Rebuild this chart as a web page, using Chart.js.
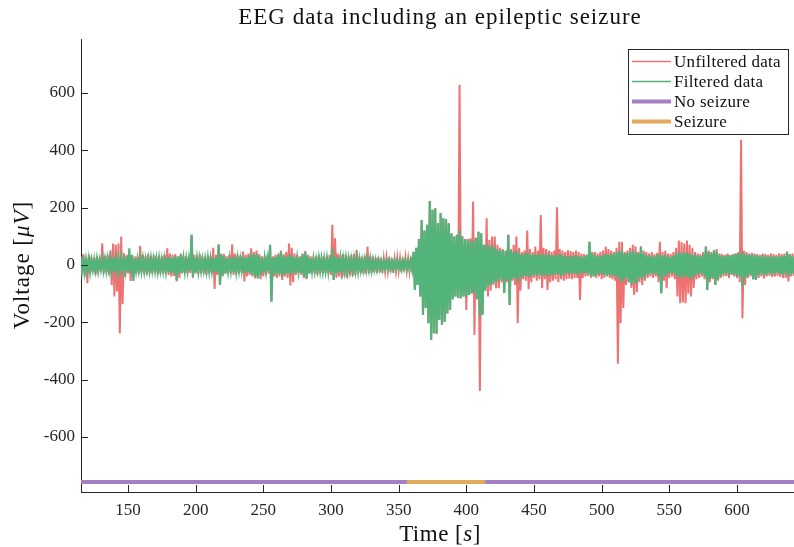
<!DOCTYPE html>
<html>
<head>
<meta charset="utf-8">
<script src="https://cdn.jsdelivr.net/npm/chart.js@4/dist/chart.umd.min.js"></script>
<style>
  html, body { margin: 0; padding: 0; background: #fff; }
</style>
</head>
<body>
<canvas id="eeg" width="794" height="547"></canvas>
<script>
var tStart = 115;          // first bin start [s]
var binStep = 2;           // bin width [s]

// unfiltered signal, upper / lower excursion per bin [uV]
var redHi = [
  30, 38, 25, 35, 28, 22, 30, 26, 75, 32,
  35, 50, 75, 70, 75, 99, 40, 35, 32, 28,
  30, 28, 67, 35, 30, 38, 32, 35, 30, 28,
  30, 35, 58, 40, 35, 38, 30, 40, 32, 30,
  30, 105, 35, 32, 38, 30, 28, 35, 30, 60,
  35, 72, 40, 38, 30, 35, 72, 40, 35, 30,
  47, 35, 40, 58, 45, 50, 38, 30, 28, 32,
  70, 30, 35, 40, 50, 38, 45, 75, 60, 40,
  35, 30, 40, 48, 35, 30, 28, 30, 35, 28,
  30, 28, 35, 140, 93, 40, 35, 38, 35, 30,
  35, 38, 52, 30, 28, 32, 64, 30, 30, 25,
  28, 25, 22, 25, 28, 22, 20, 25, 22, 25,
  25, 22, 28, 46, 60, 90, 157, 120, 140, 223,
  192, 198, 145, 180, 163, 160, 145, 110, 99, 105,
  628, 100, 90, 90, 93, 221, 95, 116, 110, 70,
  163, 87, 99, 99, 70, 60, 55, 50, 105, 55,
  70, 99, 60, 45, 50, 120, 55, 45, 64, 50,
  174, 60, 55, 50, 45, 50, 201, 55, 50, 45,
  52, 48, 45, 50, 45, 40, 38, 35, 81, 45,
  45, 40, 45, 50, 64, 55, 50, 45, 60, 81,
  81, 45, 50, 60, 70, 65, 45, 64, 50, 45,
  40, 45, 38, 42, 81, 45, 50, 40, 38, 45,
  60, 85, 80, 75, 85, 70, 60, 45, 40, 38,
  45, 64, 50, 45, 52, 55, 40, 38, 35, 40,
  35, 38, 40, 45, 437, 50, 45, 40, 42, 40,
  38, 35, 40, 38, 35, 40, 38, 35, 40, 38,
  40, 45, 38, 40
];
var redLo = [
  -30, -40, -64, -30, -25, -35, -28, -22, -30, -26,
  -35, -70, -110, -93, -238, -137, -40, -30, -56, -32,
  -28, -32, -25, -30, -35, -28, -30, -25, -32, -30,
  -30, -28, -35, -40, -38, -58, -45, -30, -28, -30,
  -28, -45, -30, -32, -28, -30, -35, -28, -30, -84,
  -35, -70, -40, -30, -28, -30, -35, -32, -30, -28,
  -58, -40, -35, -40, -47, -45, -50, -40, -35, -30,
  -128, -40, -45, -40, -52, -40, -45, -72, -60, -35,
  -30, -35, -45, -50, -30, -28, -30, -35, -28, -30,
  -28, -30, -35, -52, -45, -40, -47, -40, -45, -35,
  -40, -35, -30, -28, -32, -30, -30, -28, -25, -28,
  -25, -28, -22, -20, -25, -28, -22, -20, -25, -22,
  -20, -22, -25, -87, -70, -110, -174, -150, -203, -262,
  -238, -240, -192, -209, -198, -169, -157, -120, -110, -115,
  -116, -110, -157, -105, -100, -244, -120, -440, -174, -90,
  -110, -90, -70, -81, -81, -60, -98, -60, -140, -55,
  -70, -203, -90, -50, -55, -85, -60, -45, -55, -50,
  -81, -50, -87, -60, -55, -50, -60, -50, -55, -50,
  -47, -50, -45, -45, -122, -45, -40, -38, -45, -40,
  -45, -40, -50, -45, -40, -45, -50, -55, -345, -203,
  -150, -70, -60, -80, -105, -95, -60, -70, -55, -45,
  -40, -45, -40, -60, -99, -55, -81, -45, -40, -50,
  -110, -134, -130, -134, -100, -110, -80, -50, -45, -40,
  -50, -87, -60, -50, -70, -55, -45, -40, -38, -45,
  -35, -40, -45, -60, -186, -70, -45, -40, -50, -52,
  -45, -40, -47, -40, -38, -42, -40, -38, -42, -45,
  -45, -58, -40, -38
];

// filtered signal, upper / lower excursion per bin [uV]
var greenHi = [
  22, 30, 18, 20, 16, 18, 20, 15, 22, 18,
  20, 22, 25, 22, 20, 22, 18, 30, 58, 35,
  20, 18, 22, 20, 18, 20, 22, 18, 20, 22,
  18, 20, 25, 28, 25, 30, 28, 35, 22, 20,
  20, 105, 25, 22, 20, 18, 20, 22, 20, 25,
  25, 70, 35, 30, 22, 20, 25, 28, 22, 20,
  30, 25, 28, 40, 35, 38, 30, 25, 22, 20,
  70, 25, 28, 35, 47, 30, 28, 35, 30, 28,
  22, 25, 38, 44, 30, 22, 20, 18, 22, 20,
  20, 22, 25, 58, 30, 25, 22, 20, 22, 20,
  18, 20, 22, 18, 16, 18, 16, 20, 16, 15,
  14, 13, 12, 14, 13, 12, 14, 13, 12, 14,
  14, 12, 15, 46, 60, 90, 157, 120, 140, 223,
  192, 198, 145, 180, 163, 160, 145, 110, 99, 105,
  122, 100, 87, 90, 85, 80, 95, 116, 110, 70,
  70, 65, 70, 60, 55, 50, 52, 48, 105, 50,
  45, 50, 40, 38, 40, 42, 40, 35, 38, 35,
  38, 35, 40, 35, 35, 32, 35, 38, 35, 30,
  30, 32, 30, 35, 30, 28, 30, 35, 81, 40,
  35, 30, 32, 35, 38, 35, 40, 38, 45, 50,
  50, 40, 42, 45, 50, 45, 40, 64, 40, 35,
  30, 32, 30, 35, 38, 32, 35, 30, 28, 32,
  40, 45, 42, 40, 45, 40, 35, 38, 32, 30,
  38, 64, 45, 40, 52, 45, 35, 32, 30, 35,
  32, 35, 40, 40, 45, 40, 38, 35, 35, 35,
  32, 30, 35, 30, 28, 32, 30, 28, 30, 32,
  32, 47, 35, 30
];
var greenLo = [
  -20, -22, -18, -24, -16, -18, -20, -15, -18, -20,
  -18, -22, -24, -20, -22, -18, -20, -22, -30, -56,
  -20, -18, -20, -22, -18, -20, -18, -20, -22, -18,
  -20, -22, -25, -28, -30, -52, -30, -25, -22, -20,
  -20, -41, -25, -22, -20, -18, -20, -22, -20, -25,
  -25, -70, -35, -30, -22, -20, -25, -22, -20, -18,
  -30, -25, -28, -35, -40, -47, -35, -25, -22, -20,
  -128, -30, -35, -30, -40, -32, -30, -35, -30, -28,
  -22, -28, -40, -47, -30, -22, -20, -18, -20, -22,
  -20, -22, -25, -52, -30, -25, -22, -20, -22, -20,
  -18, -20, -22, -18, -16, -18, -16, -18, -15, -15,
  -13, -14, -12, -13, -14, -12, -13, -12, -14, -13,
  -13, -14, -15, -87, -70, -110, -174, -150, -203, -262,
  -238, -240, -192, -209, -198, -169, -157, -120, -110, -115,
  -116, -110, -110, -105, -100, -95, -120, -180, -174, -90,
  -75, -70, -65, -60, -55, -50, -98, -50, -140, -50,
  -45, -60, -45, -40, -38, -42, -40, -35, -38, -35,
  -38, -35, -40, -35, -35, -32, -35, -38, -35, -30,
  -30, -32, -30, -35, -30, -28, -30, -32, -38, -40,
  -35, -30, -32, -35, -38, -35, -40, -38, -45, -60,
  -55, -45, -60, -70, -60, -65, -45, -50, -40, -35,
  -30, -32, -30, -40, -99, -35, -40, -30, -28, -32,
  -40, -45, -42, -40, -45, -50, -40, -35, -32, -30,
  -40, -87, -50, -45, -70, -50, -38, -32, -30, -35,
  -32, -35, -38, -40, -75, -45, -38, -35, -50, -52,
  -35, -30, -38, -32, -30, -35, -30, -28, -32, -35,
  -30, -40, -32, -30
];

// seizure annotation
var seizureStart = 356;
var seizureEnd   = 414;
var recordEnd    = 643;
var markerLevel  = -757;

var xTicks = [150, 200, 250, 300, 350, 400, 450, 500, 550, 600];
var yTicks = [-600, -400, -200, 0, 200, 400, 600];

var FONT  = "'Liberation Serif', 'Times New Roman', serif";
var INK   = '#262626';
var RED   = '#ee7272';
var GREEN = '#52b37b';
var PURPLE = '#a67fc3';
var ORANGE = '#e2aa5c';

Chart.defaults.font.family = FONT;
Chart.defaults.color = INK;

// each bin drawn as one up/down stroke so the trace fills like the original
function zigzag(hi, lo) {
  var pts = [];
  for (var i = 0; i < hi.length; i++) {
    var t = tStart + i * binStep;
    pts.push({ x: t, y: hi[i] });
    pts.push({ x: t + binStep / 2, y: lo[i] });
  }
  return pts;
}

function richText(ctx, parts, x, y, size, spacing) {
  ctx.letterSpacing = (spacing || 0) + 'px';
  var w = 0;
  parts.forEach(function (p) {
    ctx.font = (p[1] ? 'italic ' : '') + size + 'px ' + FONT;
    w += ctx.measureText(p[0]).width;
  });
  var cx = x - w / 2;
  parts.forEach(function (p) {
    ctx.font = (p[1] ? 'italic ' : '') + size + 'px ' + FONT;
    ctx.fillText(p[0], cx, y);
    cx += ctx.measureText(p[0]).width;
  });
  ctx.letterSpacing = '0px';
}

var decor = {
  id: 'decor',
  afterDraw: function (chart) {
    var ctx = chart.ctx, a = chart.chartArea;
    var xs = chart.scales.x, ys = chart.scales.y;
    ctx.save();
    // inward tick marks
    ctx.strokeStyle = INK;
    ctx.lineWidth = 1;
    ctx.beginPath();
    yTicks.forEach(function (v) {
      var py = Math.round(ys.getPixelForValue(v)) + 0.5;
      ctx.moveTo(a.left, py); ctx.lineTo(a.left + 7, py);
    });
    xTicks.forEach(function (v) {
      var px = Math.round(xs.getPixelForValue(v)) + 0.5;
      ctx.moveTo(px, a.bottom); ctx.lineTo(px, a.bottom - 7);
    });
    ctx.stroke();

    // titles
    ctx.fillStyle = '#111';
    ctx.textBaseline = 'middle';
    ctx.textAlign = 'left';
    richText(ctx, [['EEG data including an epileptic seizure', false]], 440, 18, 23, 1);
    richText(ctx, [['Time [', false], ['s', true], [']', false]], 440, 535, 23, 0.5);
    ctx.save();
    ctx.translate(23, 265);
    ctx.rotate(-Math.PI / 2);
    richText(ctx, [['Voltage [', false], ['\u03bcV', true], [']', false]], 0, 0, 23, 1);
    ctx.restore();

    // legend box
    var bx = 628.5, by = 49.5, bw = 160, bh = 85;
    ctx.fillStyle = '#fff';
    ctx.fillRect(bx, by, bw, bh);
    ctx.strokeStyle = INK;
    ctx.lineWidth = 1;
    ctx.strokeRect(bx, by, bw, bh);
    chart.data.datasets.forEach(function (ds, i) {
      var ry = 61.5 + i * 20;
      ctx.strokeStyle = ds.borderColor;
      ctx.lineWidth = ds.borderWidth < 3 ? 1.5 : ds.borderWidth;
      ctx.beginPath();
      ctx.moveTo(632, ry); ctx.lineTo(671, ry);
      ctx.stroke();
      ctx.fillStyle = '#111';
      ctx.font = '17px ' + FONT;
      ctx.letterSpacing = '0.3px';
      ctx.fillText(ds.label, 674, ry + 1);
      ctx.letterSpacing = '0px';
    });
    ctx.restore();
  }
};

new Chart(document.getElementById('eeg').getContext('2d'), {
  type: 'line',
  data: {
    datasets: [
      { label: 'Unfiltered data', data: zigzag(redHi, redLo), borderColor: RED, borderWidth: 2, order: 3 },
      { label: 'Filtered data', data: zigzag(greenHi, greenLo), borderColor: GREEN, borderWidth: 2.2, order: 2 },
      { label: 'No seizure', data: [{ x: tStart, y: markerLevel }, { x: recordEnd, y: markerLevel }],
        borderColor: PURPLE, borderWidth: 4, order: 1 },
      { label: 'Seizure', data: [{ x: seizureStart, y: markerLevel }, { x: seizureEnd, y: markerLevel }],
        borderColor: ORANGE, borderWidth: 4, order: 0 }
    ]
  },
  options: {
    responsive: false,
    animation: false,
    elements: { point: { radius: 0 }, line: { tension: 0, borderCapStyle: 'butt', borderJoinStyle: 'miter' } },
    layout: { padding: { top: 39, right: 0, bottom: 0, left: 0 } },
    plugins: { legend: { display: false }, tooltip: { enabled: false }, title: { display: false } },
    scales: {
      x: {
        type: 'linear', min: 115.3, max: 642.1,
        afterBuildTicks: function (s) { s.ticks = xTicks.map(function (v) { return { value: v }; }); },
        afterFit: function (s) { s.height = 55; },
        grid: { drawOnChartArea: false, drawTicks: false },
        border: { color: INK },
        ticks: { font: { size: 17 }, color: INK, padding: 8, maxRotation: 0, autoSkip: false }
      },
      y: {
        min: -792, max: 788,
        afterBuildTicks: function (s) { s.ticks = yTicks.map(function (v) { return { value: v }; }); },
        afterFit: function (s) { s.width = 81; },
        grid: { drawOnChartArea: false, drawTicks: false },
        border: { color: INK },
        ticks: { font: { size: 17 }, color: INK, padding: 6 }
      }
    }
  },
  plugins: [decor]
});
</script>
</body>
</html>
